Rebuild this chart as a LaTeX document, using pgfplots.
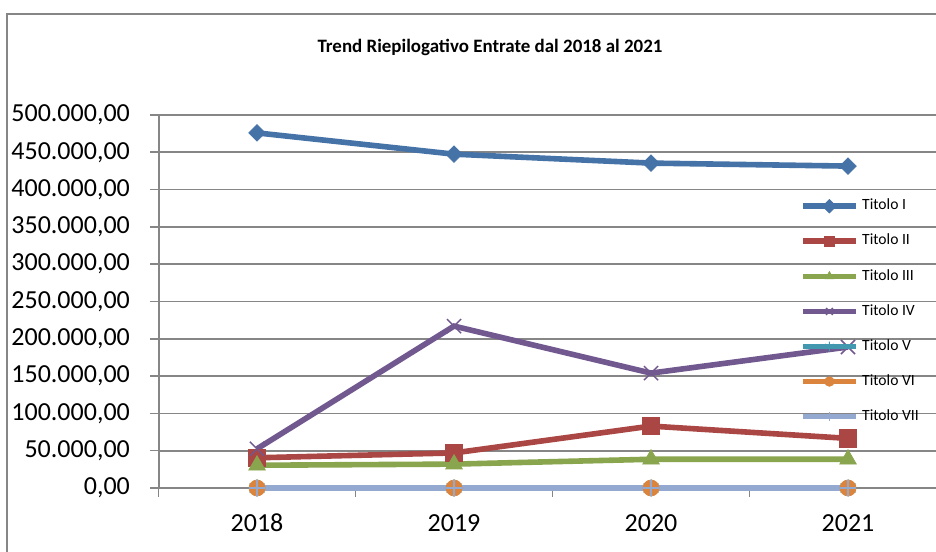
\documentclass[border=0pt]{standalone}
\usepackage{pgfplots}
\pgfplotsset{compat=1.18}
\usepackage{fontspec}
\setmainfont{Carlito}
\definecolor{cI}{HTML}{4572A7}
\definecolor{cII}{HTML}{AA4643}
\definecolor{cIII}{HTML}{89A54E}
\definecolor{cIV}{HTML}{71588F}
\definecolor{cV}{HTML}{4198AF}
\definecolor{cVI}{HTML}{DB843D}
\definecolor{cVII}{HTML}{93A9CF}
\definecolor{gridgray}{HTML}{868686}
\begin{document}
\begin{tikzpicture}
\useasboundingbox (0,0) rectangle (702pt,414pt);
\clip (0,0) rectangle (702pt,414pt);
\fill[white] (0,0) rectangle (702pt,414pt);
\draw[gridgray, line width=1.5pt] (5.6pt,-5pt) -- (5.6pt,403.5pt) -- (710pt,403.5pt);
\node[font=\fontsize{14.2}{16}\selectfont\bfseries] at (367.5pt,378.75pt) {Trend Riepilogativo Entrate dal 2018 al 2021};
\begin{axis}[
  at={(118.9pt,48pt)}, anchor=south west,
  scale only axis, width=591pt, height=279.75pt,
  xmin=-0.5, xmax=3.5, ymin=0, ymax=500000,
  xtick={-0.5,0.5,1.5,2.5,3.5},
  x tick label as interval,
  xticklabels={2018,2019,2020,2021},
  ytick distance=50000,
  scaled y ticks=false,
  axis x line*=bottom, axis y line*=left,
  tick align=outside, major tick length=6.5pt,
  tick style={gridgray, line width=1.2pt},
  axis line style={gridgray, line width=1.5pt},
  ymajorgrids, major grid style={gridgray, line width=1.3pt},
  /pgf/number format/.cd, fixed, precision=2, fixed zerofill, use comma, 1000 sep={.}, assume math mode=true,
  /pgfplots/.cd,
  yticklabel style={font=\fontsize{19.5}{20}\selectfont, anchor=east, inner sep=0pt, xshift=-14.8pt},
  xticklabel style={font=\fontsize{19.5}{20}\selectfont, anchor=base, inner sep=0pt, yshift=-25.8pt},
  clip=false,
  every axis plot/.append style={line width=4.2pt},
  legend image code/.code={\draw[mark repeat=2,mark phase=2,mark size=3.6pt] plot coordinates {(0pt,0pt) (20pt,0pt) (40pt,0pt)};},
  legend style={at={(axis description cs:0.814,0.776)}, anchor=north west, draw=none, fill=none,
    inner sep=0pt, outer sep=0pt, row sep=14.8pt,
    font=\fontsize{11.7}{12}\selectfont,
    nodes={inner sep=0pt, text height=8.5pt, text depth=3pt},
    /tikz/every odd column/.style={column sep=2.5pt}},
  legend cell align=left,
]
\addplot[cI, mark=square*, mark size=4.4pt, mark options={rotate=45, solid, line width=0.5pt}]
  coordinates {(0,476000) (1,447500) (2,435500) (3,431500)};
\addlegendentry{Titolo I}
\addplot[cII, mark=square*, mark size=6.5pt, mark options={solid, line width=0.5pt}]
  coordinates {(0,40500) (1,47000) (2,83000) (3,66500)};
\addlegendentry{Titolo II}
\addplot[cIII, mark=triangle*, mark size=7.2pt, mark options={solid, line width=0.5pt}]
  coordinates {(0,30500) (1,32000) (2,38500) (3,38500)};
\addlegendentry{Titolo III}
\addplot[cIV, mark=x, mark size=7.5pt, mark options={solid, line width=1.1pt}]
  coordinates {(0,52500) (1,217000) (2,154000) (3,189000)};
\addlegendentry{Titolo IV}
\addplot[cV, mark=asterisk, mark size=6.5pt, mark options={solid, line width=0.8pt}]
  coordinates {(0,0) (1,0) (2,0) (3,0)};
\addlegendentry{Titolo V}
\addplot[cVI, mark=*, mark size=6pt, mark options={solid, line width=0.5pt}]
  coordinates {(0,0) (1,0) (2,0) (3,0)};
\addlegendentry{Titolo VI}
\addplot[cVII, mark=+, mark size=6pt, mark options={solid, line width=1pt}]
  coordinates {(0,0) (1,0) (2,0) (3,0)};
\addlegendentry{Titolo VII}
\end{axis}
\end{tikzpicture}
\end{document}
